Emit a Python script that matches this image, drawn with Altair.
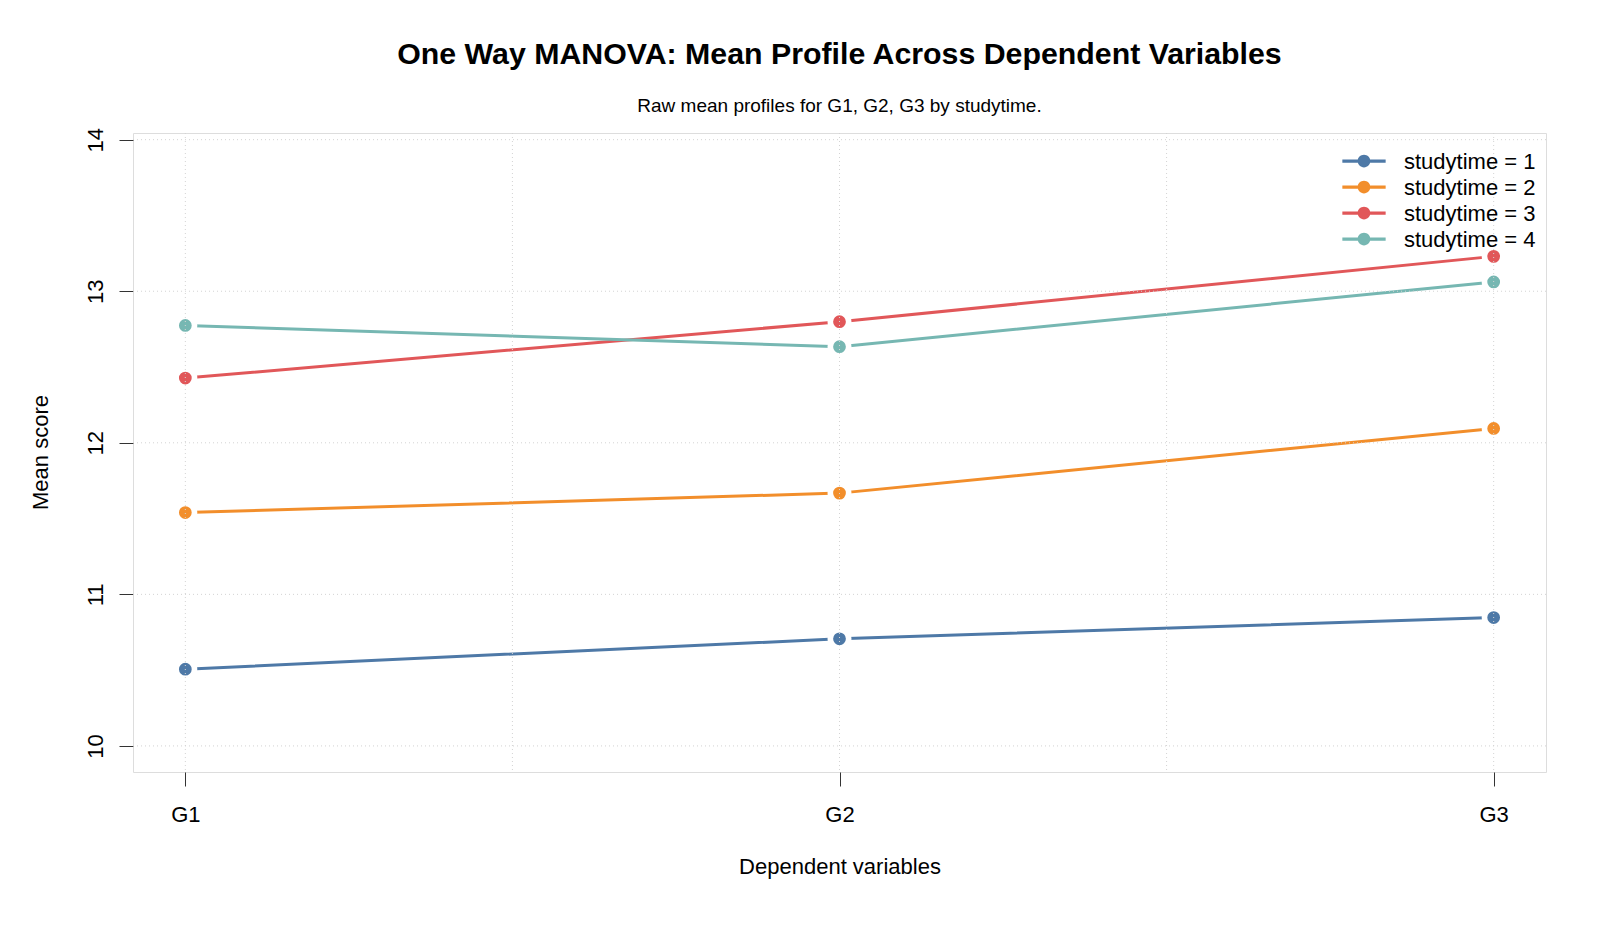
import altair as alt
import pandas as pd

# ---- data ----
groups = ["studytime = 1", "studytime = 2", "studytime = 3", "studytime = 4"]
variables = ["G1", "G2", "G3"]
var_pos = [1, 2, 3]
g1_means = [10.506, 11.540, 12.427, 12.774]
g2_means = [10.707, 11.668, 12.799, 12.634]
g3_means = [10.847, 12.095, 13.230, 13.061]
colors = ["#4E79A7", "#F28E2B", "#E15759", "#76B7B2"]

y_ticks = [10, 11, 12, 13, 14]
x_grid = [1, 1.5, 2, 2.5, 3]
y_grid = [10, 11, 12, 13, 14]

rows = []
for gi, g in enumerate(groups):
    for vals, v, p in zip([g1_means, g2_means, g3_means], variables, var_pos):
        rows.append({"group": g, "variable": v, "pos": p, "mean": vals[gi]})
df = pd.DataFrame(rows)

FONT = "Liberation Sans"
x_scale = alt.Scale(domain=[0.92, 3.08], nice=False, zero=False)
y_scale = alt.Scale(domain=[9.828, 14.044], nice=False, zero=False)
col_scale = alt.Scale(domain=groups, range=colors)

# legend glyph: short line with a dot, raised to the label's visual centre
legend_symbol = ("M-1,-0.434L1,-0.434L1,-0.294L-1,-0.294Z "
                 "M0.293,-0.364A0.293,0.293 0 1,1 -0.293,-0.364"
                 "A0.293,0.293 0 1,1 0.293,-0.364Z")

x_enc = alt.X("pos:Q", scale=x_scale,
              axis=alt.Axis(values=var_pos, labelExpr="'G' + datum.value",
                            title="Dependent variables", grid=False, domain=False,
                            tickSize=14, tickColor="#333", tickWidth=1,
                            labelFontSize=22, labelFont=FONT, labelColor="black",
                            labelBaseline="alphabetic", labelPadding=35,
                            titleFontSize=22, titleFont=FONT, titleFontWeight="normal",
                            titleColor="black", titleBaseline="alphabetic",
                            titleX=706.5, titleY=101, titleAlign="center"))
y_enc = alt.Y("mean:Q", scale=y_scale,
              axis=alt.Axis(values=y_ticks, format="d", title="Mean score", grid=False,
                            domain=False,
                            tickSize=14, tickColor="#333", tickWidth=1,
                            labelFontSize=22, labelFont=FONT, labelColor="black",
                            labelAngle=270, labelAlign="center", labelBaseline="alphabetic",
                            labelPadding=17,
                            titleFontSize=22, titleFont=FONT, titleFontWeight="normal",
                            titleColor="black", titleAngle=270, titleAlign="center",
                            titleBaseline="alphabetic", titleX=-86, titleY=319))

x_plain = alt.X("pos:Q", scale=x_scale)
y_plain = alt.Y("mean:Q", scale=y_scale)

line_layers = []
for gi, g in enumerate(groups):
    sub = df[df["group"] == g]
    enc_x = x_enc if gi == 0 else x_plain
    enc_y = y_enc if gi == 0 else y_plain
    line_layers.append(
        alt.Chart(sub).mark_line(strokeWidth=3, color=colors[gi]).encode(x=enc_x, y=enc_y)
    )

# coloured dot with a wide white ring, which opens the gap between dot and line
points = alt.Chart(df).mark_circle(size=337, opacity=1, stroke="white",
                                   strokeWidth=5.6, strokeOpacity=1).encode(
    x=x_plain, y=y_plain,
    color=alt.Color("group:N", scale=col_scale,
                    legend=alt.Legend(title=None, orient="none", legendX=1209, legendY=14,
                                      symbolType=legend_symbol, symbolSize=1875,
                                      symbolStrokeWidth=0, symbolOpacity=1,
                                      labelFontSize=22, labelFont=FONT, labelColor="black",
                                      labelBaseline="alphabetic",
                                      labelOffset=18, rowPadding=0, padding=0,
                                      labelLimit=300)),
)

vgrid = alt.Chart(pd.DataFrame({"gx": x_grid})).mark_rule(
    color="#d3d3d3", strokeWidth=1, strokeDash=[1, 3]
).encode(x=alt.X("gx:Q", scale=x_scale))

hgrid = alt.Chart(pd.DataFrame({"gy": y_grid})).mark_rule(
    color="#d3d3d3", strokeWidth=1, strokeDash=[1, 3]
).encode(y=alt.Y("gy:Q", scale=y_scale))

chart = alt.layer(*line_layers, points, vgrid, hgrid).properties(
    width=1413, height=639,
    autosize=alt.AutoSizeParams(type="none"),
    padding={"left": 133, "top": 133, "right": 54, "bottom": 161},
    title=alt.TitleParams(
        text="One Way MANOVA: Mean Profile Across Dependent Variables",
        subtitle="Raw mean profiles for G1, G2, G3 by studytime.",
        font=FONT, fontSize=30.3, fontWeight="bold", color="black",
        subtitleFont=FONT, subtitleFontSize=19, subtitleColor="black",
        anchor="middle", offset=11, subtitlePadding=27,
    ),
).configure_view(stroke="#333", strokeWidth=1).configure(background="white")

chart.save("out.html", embed_options={"renderer": "svg", "actions": False})
